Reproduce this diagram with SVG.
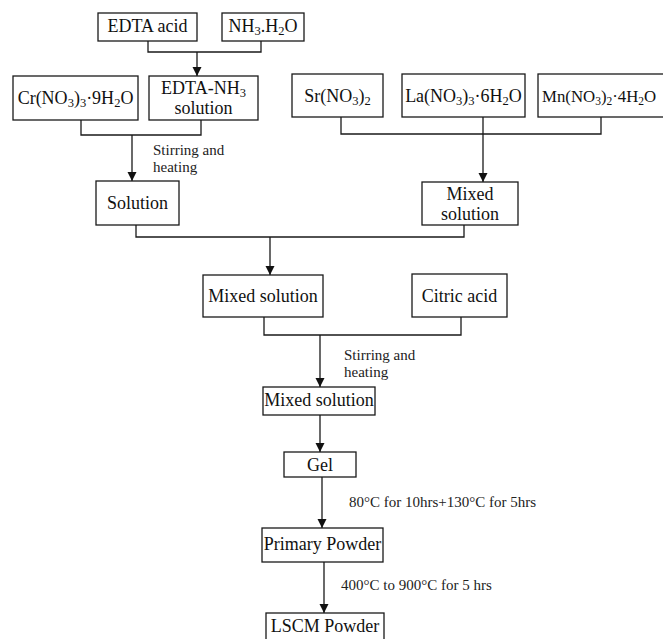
<svg xmlns="http://www.w3.org/2000/svg" width="663" height="639" viewBox="0 0 663 639">
<defs>
<style>
.box{fill:#fff;stroke:#1a1a1a;stroke-width:1.3}
.t{font-family:"Liberation Serif","Times New Roman",serif;font-size:18px;fill:#111;text-anchor:middle}
.s{font-size:12.5px}
.lab{font-family:"Liberation Serif","Times New Roman",serif;font-size:15px;fill:#222}
.ln{fill:none;stroke:#1a1a1a;stroke-width:1.3}
.ar{fill:none;stroke:#1a1a1a;stroke-width:1.3;marker-end:url(#ah)}
</style>
<marker id="ah" markerWidth="9" markerHeight="10" refX="9" refY="4.5" orient="auto" markerUnits="userSpaceOnUse">
<path d="M0,0 L9,4.5 L0,9 Z" fill="#111"/>
</marker>
</defs>
<rect width="663" height="639" fill="#fff"/>
<g id="connectors">
<polyline class="ln" points="148,41 148,52 261,52 261,41"/>
<line class="ar" x1="197" y1="52" x2="197" y2="76"/>
<polyline class="ln" points="81,120 81,135 201,135 201,120"/>
<line class="ar" x1="132" y1="135" x2="132" y2="181"/>
<polyline class="ln" points="341,117 341,134 601,134 601,117"/>
<line class="ar" x1="483" y1="117" x2="483" y2="182"/>
<polyline class="ln" points="136,225 136,237 464,237 464,225"/>
<line class="ar" x1="270" y1="237" x2="270" y2="275"/>
<polyline class="ln" points="264,317 264,335 461,335 461,317"/>
<line class="ar" x1="320" y1="335" x2="320" y2="387"/>
<line class="ar" x1="320" y1="415" x2="320" y2="452"/>
<line class="ar" x1="322" y1="477" x2="322" y2="528"/>
<line class="ar" x1="324" y1="562" x2="324" y2="613"/>
</g>
<g id="labels">
<text class="lab" x="153" y="155">Stirring and</text>
<text class="lab" x="153" y="172">heating</text>
<text class="lab" x="344" y="360">Stirring and</text>
<text class="lab" x="344" y="377">heating</text>
<text class="lab" x="349" y="507">80°C for 10hrs+130°C for 5hrs</text>
<text class="lab" x="341" y="590">400°C to 900°C for 5 hrs</text>
</g>
<g id="n-edta"><rect class="box" x="98" y="13" width="99" height="28"/><text class="t" x="147.5" y="32">EDTA acid</text></g>
<g id="n-nh3"><rect class="box" x="222" y="13" width="82" height="28"/><text class="t" x="263" y="32">NH<tspan class="s" dy="3">3</tspan><tspan dy="-3">.H</tspan><tspan class="s" dy="3">2</tspan><tspan dy="-3">O</tspan></text></g>
<g id="n-cr"><rect class="box" x="13" y="76" width="125" height="44"/><text class="t" x="75.5" y="104">Cr(NO<tspan class="s" dy="3">3</tspan><tspan dy="-3">)</tspan><tspan class="s" dy="3">3</tspan><tspan dy="-3">·9H</tspan><tspan class="s" dy="3">2</tspan><tspan dy="-3">O</tspan></text></g>
<g id="n-edtanh3"><rect class="box" x="149" y="76" width="109" height="44"/><text class="t" x="203.5" y="94">EDTA-NH<tspan class="s" dy="3">3</tspan></text><text class="t" x="203.5" y="114">solution</text></g>
<g id="n-sr"><rect class="box" x="292" y="74" width="91" height="43"/><text class="t" x="337.5" y="102">Sr(NO<tspan class="s" dy="3">3</tspan><tspan dy="-3">)</tspan><tspan class="s" dy="3">2</tspan></text></g>
<g id="n-la"><rect class="box" x="402" y="74" width="123" height="43"/><text class="t" x="463.5" y="102">La(NO<tspan class="s" dy="3">3</tspan><tspan dy="-3">)</tspan><tspan class="s" dy="3">3</tspan><tspan dy="-3">·6H</tspan><tspan class="s" dy="3">2</tspan><tspan dy="-3">O</tspan></text></g>
<g id="n-mn"><rect class="box" x="538" y="74" width="130" height="43"/><text class="t" x="542" y="102" style="text-anchor:start;font-size:16.8px">Mn(NO<tspan class="s" dy="3" style="font-size:11.5px">3</tspan><tspan dy="-3">)</tspan><tspan class="s" dy="3" style="font-size:11.5px">2</tspan><tspan dy="-3">·4H</tspan><tspan class="s" dy="3" style="font-size:11.5px">2</tspan><tspan dy="-3">O</tspan></text></g>
<g id="n-solution"><rect class="box" x="96" y="181" width="83" height="44"/><text class="t" x="137.5" y="209">Solution</text></g>
<g id="n-mixed1"><rect class="box" x="422" y="182" width="96" height="43"/><text class="t" x="470" y="200">Mixed</text><text class="t" x="470" y="220">solution</text></g>
<g id="n-mixed2"><rect class="box" x="203" y="275" width="120" height="42"/><text class="t" x="263" y="302">Mixed solution</text></g>
<g id="n-citric"><rect class="box" x="412" y="274" width="95" height="43"/><text class="t" x="459.5" y="302">Citric acid</text></g>
<g id="n-mixed3"><rect class="box" x="263" y="387" width="112" height="28"/><text class="t" x="319" y="406">Mixed solution</text></g>
<g id="n-gel"><rect class="box" x="284" y="452" width="72" height="25"/><text class="t" x="320" y="471">Gel</text></g>
<g id="n-primary"><rect class="box" x="262" y="528" width="121" height="34"/><text class="t" x="322.5" y="550">Primary Powder</text></g>
<g id="n-lscm"><rect class="box" x="266" y="613" width="118" height="34"/><text class="t" x="325" y="632">LSCM Powder</text></g>
</svg>
